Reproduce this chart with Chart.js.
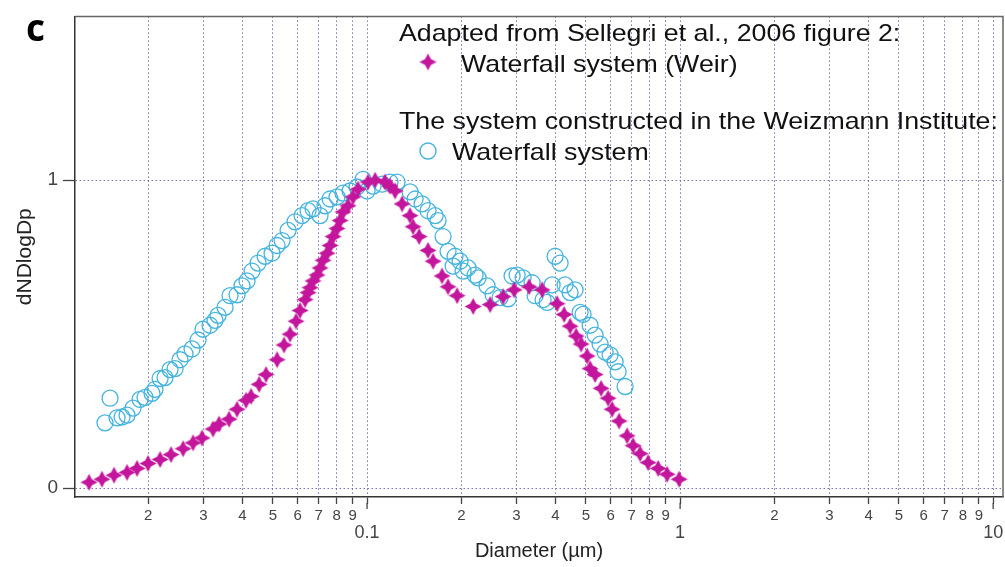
<!DOCTYPE html>
<html>
<head>
<meta charset="utf-8">
<script src="https://cdn.jsdelivr.net/npm/chart.js@4/dist/chart.umd.min.js"></script>
<style>
  html, body { margin: 0; padding: 0; background: #fff; }
  #sizeChart { display: block; }
</style>
</head>
<body>
<canvas id="sizeChart" width="1005" height="567"></canvas>
<script>
// Sellegri et al. 2006, waterfall (weir) system
var weirD = [0.01294,0.01423,0.01555,0.01711,0.01842,0.01997,0.02182,0.02365,0.02584,0.02781,
  0.02971,0.03221,0.03367,0.03624,0.03843,0.04106,0.0426,0.04519,0.04757,0.05159,
  0.05431,0.05675,0.05932,0.06109,0.06338,0.06479,0.06575,0.06722,0.06923,0.07077,
  0.07235,0.07451,0.07617,0.07787,0.08019,0.08198,0.08381,0.08695,0.09021,0.09359,
  0.1007,0.1061,0.1141,0.1184,0.1229,0.1294,0.1372,0.1403,0.1466,0.1566,
  0.1625,0.1736,0.1814,0.1939,0.2182,0.2472,0.272,0.2949,0.3293,0.3624,
  0.4046,0.426,0.4452,0.4653,0.4827,0.5045,0.5158,0.5351,0.5593,0.5888,
  0.6063,0.6384,0.6771,0.7075,0.7449,0.7901,0.8507,0.9088,0.9926]
var weirN = [0.019,0.029,0.042,0.051,0.064,0.080,0.093,0.109,0.128,0.147,
  0.163,0.192,0.208,0.224,0.256,0.285,0.298,0.337,0.369,0.417,
  0.465,0.500,0.542,0.577,0.612,0.635,0.651,0.673,0.692,0.715,
  0.740,0.763,0.788,0.817,0.843,0.869,0.897,0.917,0.946,0.971,
  0.994,1.0,0.994,0.981,0.965,0.923,0.885,0.849,0.817,0.772,
  0.737,0.689,0.654,0.625,0.590,0.596,0.622,0.644,0.654,0.644,
  0.599,0.564,0.526,0.494,0.468,0.429,0.388,0.369,0.324,0.292,
  0.256,0.218,0.170,0.138,0.112,0.083,0.064,0.045,0.029]

// Weizmann Institute waterfall system
var wisD = [0.01455,0.0151,0.0159,0.0165,0.01711,0.01788,0.01883,0.01953,0.02056,0.02102,
  0.02182,0.02263,0.02348,0.02436,0.02527,0.02621,0.0276,0.02885,0.02992,0.0315,
  0.03268,0.03342,0.03518,0.0365,0.03843,0.03986,0.04136,0.04291,0.04485,0.04722,
  0.04971,0.05159,0.05352,0.05594,0.05888,0.06199,0.06479,0.06722,0.07077,0.07342,
  0.07617,0.08019,0.08381,0.08823,0.09292,0.0971,0.1,0.1045,0.1117,0.1184,
  0.1247,0.1372,0.1424,0.1499,0.1566,0.165,0.1686,0.1749,0.1814,0.1883,
  0.191,0.1982,0.2026,0.2102,0.2213,0.2263,0.2417,0.2527,0.2661,0.2821,
  0.2906,0.3015,0.3151,0.3367,0.3441,0.3651,0.376,0.39,0.3987,0.4137,
  0.4291,0.4452,0.4619,0.4792,0.4898,0.5158,0.5351,0.5552,0.576,0.5976,
  0.62,0.6338,0.6672]
var wisN = [0.212,0.292,0.228,0.231,0.237,0.260,0.288,0.295,0.308,0.321,
  0.356,0.359,0.385,0.388,0.417,0.436,0.452,0.481,0.516,0.529,
  0.545,0.561,0.587,0.625,0.628,0.657,0.673,0.705,0.731,0.753,
  0.763,0.788,0.804,0.837,0.865,0.885,0.901,0.907,0.885,0.917,
  0.939,0.946,0.958,0.965,0.978,1.003,0.965,0.981,0.987,0.994,
  0.994,0.962,0.939,0.923,0.901,0.885,0.869,0.817,0.769,0.721,
  0.753,0.737,0.705,0.715,0.692,0.683,0.657,0.628,0.619,0.615,
  0.689,0.692,0.683,0.667,0.625,0.612,0.603,0.660,0.753,0.731,
  0.660,0.635,0.644,0.571,0.564,0.529,0.497,0.468,0.442,0.433,
  0.410,0.378,0.330]

// axis ticks
var tickDecades = [0.01, 0.1, 1]
var minorDigits = [2, 3, 4, 5, 6, 7, 8, 9]
var majorLabels = ['0.1', '1', '10']
var yTicks = [0, 1]

var legendLines = [
  'Adapted from Sellegri et al., 2006 figure 2:',
  'Waterfall system (Weir)',
  'The system constructed in the Weizmann Institute:',
  'Waterfall system'
]

var MAGENTA = '#c4169c'
var CYAN = '#46b4de'
var GRID = 'rgba(100,100,165,0.9)'
var FONT = '"Liberation Sans", Arial, sans-serif'

function isMajor(v) {
  var e = Math.log10(v)
  return Math.abs(e - Math.round(e)) < 1e-6
}

// 4-point star marker
function makeStar(r, color) {
  var c = document.createElement('canvas')
  var s = Math.ceil(r * 2 + 2)
  c.width = s; c.height = s
  var g = c.getContext('2d')
  var m = s / 2, k = r * 0.34
  g.fillStyle = color
  g.beginPath()
  g.moveTo(m, m - r)
  g.lineTo(m + k, m - k)
  g.lineTo(m + r, m)
  g.lineTo(m + k, m + k)
  g.lineTo(m, m + r)
  g.lineTo(m - k, m + k)
  g.lineTo(m - r, m)
  g.lineTo(m - k, m - k)
  g.closePath()
  g.fill()
  return c
}
var star = makeStar(8.5, MAGENTA)

var xTickValues = []
tickDecades.forEach(function (d) {
  minorDigits.forEach(function (n) { xTickValues.push(Number((d * n).toPrecision(6))) })
  xTickValues.push(Number((d * 10).toPrecision(6)))
})

var decorations = {
  id: 'decorations',
  afterDraw: function (chart) {
    var ctx = chart.ctx
    var a = chart.chartArea
    var xs = chart.scales.x
    ctx.save()
    // top and right frame
    ctx.strokeStyle = '#666'
    ctx.lineWidth = 1.5
    ctx.beginPath()
    ctx.moveTo(a.left, a.top)
    ctx.lineTo(a.right, a.top)
    ctx.lineTo(a.right, a.bottom)
    ctx.stroke()
    // longer ticks at decades
    ctx.strokeStyle = '#444'
    ctx.lineWidth = 1.3
    xTickValues.forEach(function (v) {
      if (!isMajor(v)) return
      var px = xs.getPixelForValue(v)
      ctx.beginPath()
      ctx.moveTo(px, a.bottom + 6)
      ctx.lineTo(px, a.bottom + 12)
      ctx.stroke()
    })
    // panel letter
    ctx.fillStyle = '#000'
    ctx.font = 'bold 37px "Open Sans", sans-serif'
    ctx.textBaseline = 'alphabetic'
    ctx.fillText('c', 26, 41)
    // legend
    ctx.fillStyle = '#111'
    ctx.font = '24px ' + FONT
    function stretched(txt, x, y) {
      ctx.save()
      ctx.translate(x, y)
      ctx.scale(1.115, 1)
      ctx.fillText(txt, 0, 0)
      ctx.restore()
    }
    stretched(legendLines[0], 399, 41)
    stretched(legendLines[1], 461, 72)
    stretched(legendLines[2], 399, 129)
    stretched(legendLines[3], 452, 160)
    ctx.drawImage(star, 428 - star.width / 2, 62 - star.height / 2)
    ctx.strokeStyle = CYAN
    ctx.lineWidth = 1.4
    ctx.beginPath()
    ctx.arc(428, 151, 8, 0, Math.PI * 2)
    ctx.stroke()
    ctx.restore()
  }
}

var chart = new Chart(document.getElementById('sizeChart'), {
  type: 'scatter',
  data: {
    datasets: [{
      label: 'Waterfall system (Weir)',
      data: weirD.map(function (d, i) { return { x: d, y: weirN[i] } }),
      pointStyle: star,
      pointRadius: 8,
      showLine: false
    }, {
      label: 'Waterfall system',
      data: wisD.map(function (d, i) { return { x: d, y: wisN[i] } }),
      pointStyle: 'circle',
      pointRadius: 8,
      borderColor: CYAN,
      backgroundColor: 'rgba(0,0,0,0)',
      borderWidth: 1.3,
      showLine: false
    }]
  },
  options: {
    responsive: false,
    animation: false,
    devicePixelRatio: 1,
    layout: { autoPadding: false, padding: { top: 10, right: 2, left: 0, bottom: 0 } },
    plugins: {
      legend: { display: false },
      tooltip: { enabled: false }
    },
    scales: {
      x: {
        type: 'logarithmic',
        min: 0.01167,
        max: 10.75,
        afterBuildTicks: function (scale) {
          scale.ticks = xTickValues.map(function (v) { return { value: v, major: isMajor(v) } })
        },
        afterFit: function (scale) {
          scale.height = 70
          scale.paddingLeft = 0
          scale.paddingRight = 0
        },
        ticks: {
          autoSkip: false,
          maxRotation: 0,
          minRotation: 0,
          padding: 3,
          color: '#444',
          font: function (c) {
            if (c.tick && isMajor(c.tick.value)) return { family: FONT, size: 18, lineHeight: 0.95 }
            return { family: FONT, size: 15, lineHeight: 1.2 }
          },
          callback: function (v) {
            if (isMajor(v)) {
              var i = Math.round(Math.log10(v)) + 1
              return ['', majorLabels[i]]
            }
            var e = Math.floor(Math.log10(v) + 1e-9)
            return String(Math.round(v / Math.pow(10, e)))
          }
        },
        grid: {
          color: GRID,
          lineWidth: 1,
          drawTicks: true,
          tickLength: 7,
          tickColor: '#444',
          tickWidth: 1.3,
          tickBorderDash: []
        },
        border: { display: true, color: '#333', width: 1.5, dash: [1.5, 2.5] },
        title: {
          display: true,
          text: 'Diameter (\u00b5m)',
          color: '#222',
          font: { family: FONT, size: 20 },
          padding: 4
        }
      },
      y: {
        type: 'linear',
        min: -0.0288,
        max: 1.532,
        afterBuildTicks: function (scale) {
          scale.ticks = yTicks.map(function (v) { return { value: v } })
        },
        afterFit: function (scale) { scale.width = 75 },
        ticks: {
          padding: 5,
          color: '#444',
          font: { family: FONT, size: 19 },
          callback: function (v) { return String(v) }
        },
        grid: {
          color: GRID,
          lineWidth: 1,
          drawTicks: true,
          tickLength: 12,
          tickColor: '#444',
          tickWidth: 1.3,
          tickBorderDash: []
        },
        border: { display: true, color: '#333', width: 1.5, dash: [1.5, 2.5] },
        title: {
          display: true,
          text: 'dNDlogDp',
          color: '#222',
          font: { family: FONT, size: 21 },
          padding: 13
        }
      }
    }
  },
  plugins: [decorations]
})
</script>
</body>
</html>
